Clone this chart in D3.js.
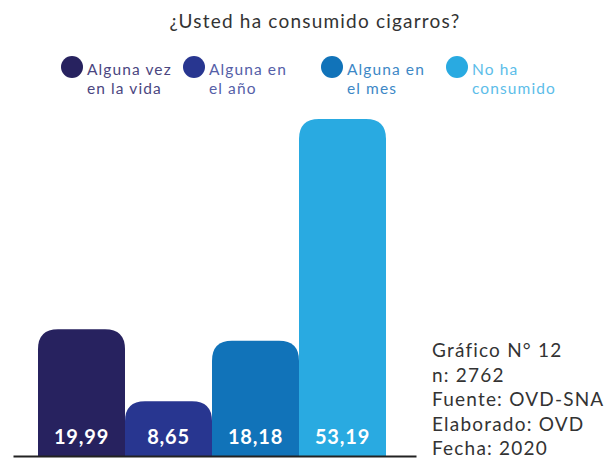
<!DOCTYPE html>
<html>
<head>
<meta charset="utf-8">
<script src="https://cdn.jsdelivr.net/npm/d3@7"></script>
<style>
  body { margin: 0; background: #fff; }
  svg { display: block; }
  text { font-family: Lato, "Open Sans", sans-serif; }
</style>
</head>
<body>
<svg id="chart" width="608" height="460"></svg>
<script>
const title = "¿Usted ha consumido cigarros?";
const categories = ["Alguna vez en la vida", "Alguna en el año", "Alguna en el mes", "No ha consumido"];
const legendLines = [["Alguna vez", "en la vida"], ["Alguna en", "el año"], ["Alguna en", "el mes"], ["No ha", "consumido"]];
const values = [19.99, 8.65, 18.18, 53.19];
const valueLabels = ["19,99", "8,65", "18,18", "53,19"];
const colors = ["#27225f", "#283690", "#1173b9", "#29aae1"];
const legendTextColors = ["#4b4680", "#5560a8", "#3d88c6", "#5cbde9"];
const notes = ["Gráfico N° 12", "n: 2762", "Fuente: OVD-SNA", "Elaborado: OVD", "Fecha: 2020"];

const svg = d3.select("#chart");
const baseY = 456;

const x = d3.scaleBand().domain(categories).range([38, 386]).padding(0);
const y = d3.scaleLinear().domain([0, 53.19]).range([baseY, 119]);

svg.append("text")
  .attr("x", 315).attr("y", 28)
  .attr("text-anchor", "middle")
  .attr("font-size", 19)
  .attr("letter-spacing", 1.2)
  .attr("fill", "#333")
  .text(title);

// legend
const legendX = [72, 194, 332, 457];
const lg = svg.append("g");
categories.forEach((c, i) => {
  lg.append("circle").attr("cx", legendX[i]).attr("cy", 67).attr("r", 11).attr("fill", colors[i]);
  legendLines[i].forEach((l, j) => {
    lg.append("text").attr("x", legendX[i] + 15).attr("y", 75 + j * 19)
      .attr("font-size", 15.5).attr("letter-spacing", 1.1)
      .attr("fill", legendTextColors[i]).text(l);
  });
});

// bars with rounded top corners
function topRounded(x0, y0, w, h, r) {
  r = Math.min(r, h, w / 2);
  return `M${x0},${y0 + h}V${y0 + r}Q${x0},${y0} ${x0 + r},${y0}H${x0 + w - r}Q${x0 + w},${y0} ${x0 + w},${y0 + r}V${y0 + h}Z`;
}
svg.append("g").selectAll("path")
  .data(values)
  .join("path")
  .attr("d", (d, i) => topRounded(x(categories[i]), y(d), x.bandwidth(), baseY - y(d), 20))
  .attr("fill", (d, i) => colors[i]);

svg.append("g").selectAll("text")
  .data(valueLabels)
  .join("text")
  .attr("x", (d, i) => x(categories[i]) + x.bandwidth() / 2)
  .attr("y", 444)
  .attr("text-anchor", "middle")
  .attr("font-size", 20)
  .attr("font-weight", 700)
  .attr("letter-spacing", 0.8)
  .attr("fill", "#fff")
  .text(d => d);

// baseline axis
const axis = d3.axisBottom(d3.scaleLinear().range([13, 416])).ticks(0).tickSize(0).tickFormat("");
svg.append("g").attr("transform", `translate(0,${baseY})`).call(axis)
  .select(".domain").attr("stroke", "#222").attr("stroke-width", 2);

// notes
notes.forEach((n, i) => {
  svg.append("text").attr("x", 432).attr("y", 357 + i * 24.5)
    .attr("font-size", 19).attr("letter-spacing", 1.2)
    .attr("fill", "#333").text(n);
});
</script>
</body>
</html>
